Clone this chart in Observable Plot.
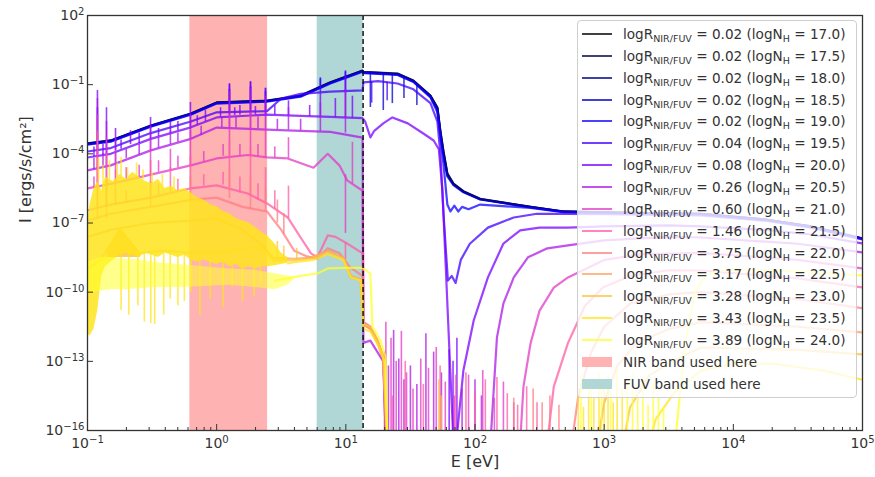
<!DOCTYPE html>
<html><head><meta charset="utf-8">
<script src="https://cdn.jsdelivr.net/npm/d3@7"></script>
<script src="https://cdn.jsdelivr.net/npm/@observablehq/plot@0.6"></script>
<style>
body{margin:0;background:#fff;font-family:"DejaVu Sans",sans-serif;}
#wrap{position:relative;width:875px;height:477px;overflow:hidden;}
#legend{position:absolute;left:577px;top:20px;width:280px;height:378px;box-sizing:border-box;border:1px solid #cfcfcf;border-radius:4px;background:rgba(255,255,255,0.8);font-size:13.6px;color:#333;}
.sw{position:absolute;left:4px;width:30px;}
.tx{position:absolute;left:45px;white-space:nowrap;line-height:16px;}
sub{font-size:0.7em;vertical-align:-0.3em;line-height:0;}
</style></head>
<body><div id="wrap"><div id="chart"></div><div id="legend"></div></div>
<script>
// ---------- labels ----------
const logNH = ["17.0","17.5","18.0","18.5","19.0","19.5","20.0","20.5","21.0","21.5","22.0","22.5","23.0","23.5","24.0"];
const logR  = ["0.02","0.02","0.02","0.02","0.02","0.04","0.08","0.26","0.60","1.46","3.75","3.17","3.28","3.43","3.89"];
const palette = ["#000000","#000044","#000088","#0000cc","#0d00ff","#4200ff","#7800ff","#ad18e7","#e23ac5","#ff5ca3","#ff7e81","#ffa05f","#ffc23d","#ffe41b","#ffff2b"];
const nirBand = [0.62, 2.48];
const fuvBand = [6.0, 13.6];
const lymanEdge = [13.6];
const xTicks = [1e-1,1e0,1e1,1e2,1e3,1e4,1e5];
const yTicks = [1e2,1e-1,1e-4,1e-7,1e-10,1e-13,1e-16];

// ---------- spectra: [log10 E(eV), log10 I] ----------
const spec17_0 = [[-1,-3.55],[-0.82,-3.42],[-0.51,-2.77],[-0.2,-2.25],[0,-1.77],[0.39,-1.69],[0.65,-1.47],[0.88,-0.9],[1.13,-0.39],
 [1.136,-0.45],[1.25,-0.48],[1.4,-0.52],[1.523,-0.82],[1.655,-1.47],[1.709,-1.99],[1.732,-3.0],[1.755,-3.85],[1.786,-4.85],[1.833,-5.29],[1.91,-5.62],[2.04,-5.95],[2.43,-6.3],[2.684,-6.5],[3.0,-6.54],[3.75,-6.6],[4.25,-6.85],[4.6,-7.15],[5,-7.67]];
const spec17_5 = [[-1,-3.56],[-0.82,-3.43],[-0.51,-2.78],[-0.2,-2.26],[0,-1.78],[0.39,-1.7],[0.65,-1.48],[0.88,-0.91],[1.13,-0.4],
 [1.136,-0.46],[1.25,-0.49],[1.4,-0.53],[1.523,-0.83],[1.655,-1.48],[1.709,-2.01],[1.732,-3.05],[1.755,-3.9],[1.786,-4.88],[1.833,-5.3],[1.91,-5.63],[2.04,-5.96],[2.43,-6.3],[2.684,-6.5],[3.0,-6.54],[3.75,-6.6],[4.25,-6.85],[4.6,-7.15],[5,-7.67]];
const spec18_0 = [[-1,-3.57],[-0.82,-3.44],[-0.51,-2.79],[-0.2,-2.27],[0,-1.79],[0.39,-1.71],[0.65,-1.49],[0.88,-0.92],[1.13,-0.41],
 [1.136,-0.47],[1.25,-0.5],[1.4,-0.55],[1.523,-0.85],[1.655,-1.5],[1.709,-2.05],[1.732,-3.1],[1.755,-3.95],[1.786,-4.92],[1.833,-5.32],[1.91,-5.64],[2.04,-5.97],[2.43,-6.31],[2.684,-6.51],[3.0,-6.55],[3.75,-6.61],[4.25,-6.86],[4.6,-7.16],[5,-7.68]];
const spec18_5 = [[-1,-3.58],[-0.82,-3.45],[-0.51,-2.8],[-0.2,-2.28],[0,-1.8],[0.39,-1.72],[0.65,-1.5],[0.88,-0.93],[1.13,-0.42],
 [1.136,-0.48],[1.25,-0.51],[1.4,-0.56],[1.523,-0.86],[1.655,-1.52],[1.709,-2.1],[1.732,-3.2],[1.755,-4.05],[1.786,-4.98],[1.833,-5.36],[1.91,-5.67],[2.04,-5.98],[2.43,-6.32],[2.684,-6.52],[3.0,-6.55],[3.75,-6.61],[4.25,-6.86],[4.6,-7.16],[5,-7.68]];
const spec19_0 = [[-1,-3.6],[-0.82,-3.47],[-0.51,-2.82],[-0.2,-2.3],[0,-1.82],[0.39,-1.74],[0.65,-1.52],[0.88,-0.95],[1.13,-0.44],
 [1.136,-0.5],[1.25,-0.53],[1.4,-0.58],[1.523,-0.88],[1.655,-1.55],[1.709,-2.2],[1.732,-3.3],[1.755,-4.4],[1.786,-6.2],[1.81,-6.5],[1.84,-6.25],[1.87,-6.5],[1.9,-6.3],[1.95,-6.4],[2.04,-6.2],[2.43,-6.35],[2.684,-6.53],[3.0,-6.56],[3.75,-6.62],[4.25,-6.87],[4.6,-7.17],[5,-7.69]];
const spec19_5 = [[-1,-3.9],[-0.82,-3.75],[-0.51,-3.1],[-0.2,-2.6],[0,-2.2],[0.39,-2.15],[0.5,-1.6],[0.65,-1.4],[0.88,-1.3],[1.13,-1.25],
 [1.136,-0.9],[1.25,-0.85],[1.4,-0.95],[1.523,-1.2],[1.655,-1.8],[1.709,-2.6],[1.732,-4.0],[1.755,-6.5],[1.79,-9.5],[1.82,-9.3],[1.85,-9.6],[1.89,-8.6],[1.96,-7.9],[2.1,-7.2],[2.3,-6.76],[2.48,-6.6],[2.72,-6.6],[3.0,-6.62],[3.75,-6.67],[4.25,-6.9],[4.6,-7.2],[5,-7.72]];
const spec20_0 = [[-1,-4.16],[-0.82,-4.0],[-0.51,-3.35],[-0.2,-2.85],[0,-2.42],[0.39,-2.3],[0.65,-2.35],[0.88,-2.4],[1.13,-2.45],
 [1.15,-2.6],[1.19,-3.29],[1.22,-3.0],[1.29,-2.68],[1.36,-2.42],[1.48,-2.68],[1.6,-3.12],[1.68,-3.42],[1.72,-3.8],[1.748,-5.6],[1.79,-11.0],[1.833,-16.5],[1.864,-16.0],[1.91,-13.4],[1.99,-11.23],[2.1,-9.36],[2.22,-7.89],[2.35,-7.32],[2.5,-7.2],[2.72,-7.2],[3.0,-7.15],[3.5,-7.1],[3.75,-7.15],[4.25,-7.3],[4.6,-7.5],[5,-7.89]];
const spec20_5 = [[-1,-4.72],[-0.82,-4.5],[-0.51,-3.85],[-0.2,-3.35],[0,-2.86],[0.39,-2.95],[0.65,-3.0],[0.88,-3.05],[1.13,-3.3],
 [1.136,-12.2],[1.19,-12.1],[1.245,-12.6],[1.29,-13.0],[1.31,-16.5],[2.12,-16.5],[2.17,-11.96],[2.22,-10.49],[2.3,-9.36],[2.41,-8.49],[2.56,-8.1],[2.72,-7.97],[3.0,-7.75],[3.5,-7.6],[3.75,-7.63],[4.5,-7.9],[5,-8.28]];
const spec21_0 = [[-1,-5.5],[-0.82,-5.3],[-0.51,-4.9],[-0.2,-4.5],[0,-4.2],[0.24,-4.05],[0.39,-4.15],[0.55,-4.2],[0.75,-4.6],[0.86,-4.0],[0.95,-4.5],[1.01,-5.15],[1.13,-5.6],
 [1.136,-11.3],[1.19,-11.5],[1.245,-12.1],[1.29,-12.8],[1.31,-16.5],[2.35,-16.5],[2.375,-14.1],[2.43,-12.22],[2.5,-10.8],[2.61,-9.8],[2.72,-9.36],[3.0,-8.6],[3.3,-8.35],[3.75,-8.3],[4.5,-8.6],[5,-8.97]];
const spec21_5 = [[-1,-6.45],[-0.82,-6.2],[-0.51,-5.9],[-0.2,-5.5],[0,-5.37],[0.24,-5.72],[0.39,-6.15],[0.55,-6.76],[0.65,-7.63],[0.73,-8.32],[0.78,-8.49],[0.86,-7.54],[0.92,-7.6],[1.01,-7.89],[1.13,-8.32],
 [1.136,-11.4],[1.19,-11.55],[1.245,-12.15],[1.29,-12.85],[1.315,-16.5],[2.56,-16.5],[2.61,-14.1],[2.72,-12.2],[2.79,-11.35],[2.85,-10.6],[2.99,-9.8],[3.2,-9.3],[3.5,-9.05],[3.75,-9.06],[4.5,-9.4],[5,-9.8]];
const spec22_0 = [[-1,-6.9],[-0.82,-6.6],[-0.51,-6.3],[-0.2,-6.0],[0,-5.9],[0.2,-6.3],[0.39,-6.5],[0.5,-7.3],[0.6,-8.2],[0.7,-8.45],[0.78,-8.55],[0.86,-8.1],[0.95,-8.3],[1.03,-8.9],[1.13,-9.3],
 [1.136,-11.4],[1.19,-11.6],[1.245,-12.2],[1.29,-12.9],[1.315,-16.5],[2.75,-16.5],[2.8,-14.5],[2.9,-12.6],[3.0,-11.5],[3.2,-10.5],[3.5,-10.1],[3.75,-10.0],[4.5,-10.3],[5,-10.7]];
const spec22_5 = [[-1,-7.6],[-0.82,-7.3],[-0.51,-7.0],[-0.2,-6.9],[0,-6.8],[0.2,-7.3],[0.34,-7.9],[0.44,-8.5],[0.6,-8.55],[0.73,-8.5],[0.86,-8.2],[0.98,-8.5],[1.04,-9.3],[1.12,-9.45],
 [1.136,-11.4],[1.19,-11.55],[1.245,-12.15],[1.29,-12.85],[1.32,-16.5],[2.95,-16.5],[3.0,-14.8],[3.1,-13.2],[3.25,-12.2],[3.5,-11.6],[3.75,-11.3],[4.5,-11.5],[5,-11.75]];
const spec23_0 = [[-1,-9.0],[-0.9,-8.6],[-0.75,-7.3],[-0.6,-8.3],[-0.4,-8.2],[-0.2,-8.3],[0,-8.3],[0.2,-8.1],[0.34,-8.06],[0.44,-8.62],[0.594,-8.62],[0.726,-8.54],[0.858,-8.28],[0.981,-8.54],[1.036,-9.36],[1.113,-9.49],
 [1.136,-11.36],[1.19,-11.5],[1.245,-12.1],[1.29,-12.8],[1.322,-16.5],[3.15,-16.5],[3.2,-15.0],[3.35,-13.6],[3.6,-12.8],[3.75,-12.4],[4.5,-12.5],[5,-12.7]];
const spec23_5 = [[0.55,-8.75],[0.6,-8.7],[0.75,-8.6],[0.86,-8.35],[0.98,-8.6],[1.04,-9.35],[1.12,-9.5],
 [1.136,-11.6],[1.19,-11.7],[1.25,-12.3],[1.3,-13.0],[1.32,-16.5],[3.35,-16.5],[3.4,-15.5],[3.55,-14.3],[3.75,-13.4],[4.0,-13.1],[4.3,-13.1],[4.7,-13.4],[5,-13.8]];
const spec24_0 = [[0.45,-9.5],[0.5,-9.45],[0.6,-9.35],[0.7,-9.25],[0.78,-9.19],[0.86,-8.97],[1.0,-8.95],[1.13,-8.95],[1.19,-9.2],[1.206,-11.5],[1.268,-12.1],[1.307,-12.8],[1.322,-16.5],
 [3.55,-16.5],[3.62,-12.5],[3.7,-10.0],[3.8,-9.2],[4.0,-9.0],[4.5,-9.1],[5,-9.27]];

// ---------- dense noisy parts as envelopes: [log E, log low, log high] ----------
const band23_0 = [[-0.845,-8.5,-8.2],[-0.745,-8.5,-7.2],[-0.59,-8.5,-8.3]];
const band23_5 = [[-1.0,-11.8,-7.0],[-0.98,-11.9,-6.2],[-0.95,-11.6,-5.5],[-0.92,-10.8,-5.2],[-0.89,-9.3,-5.6],[-0.86,-8.9,-5.0],[-0.8,-8.6,-5.2],[-0.75,-8.4,-4.9],[-0.7,-8.3,-5.1],[-0.65,-8.4,-4.8],[-0.6,-8.5,-5.0],[-0.55,-8.3,-5.2],[-0.5,-8.4,-5.3],[-0.45,-8.5,-5.1],[-0.4,-8.3,-5.5],[-0.35,-8.4,-5.4],[-0.3,-8.5,-5.6],[-0.25,-8.4,-5.5],[-0.2,-8.6,-5.7],[-0.15,-8.7,-5.9],[-0.1,-8.6,-6.0],[-0.05,-8.7,-6.2],[0.0,-8.8,-6.3],[0.05,-8.7,-6.5],[0.1,-8.9,-6.6],[0.15,-8.8,-6.8],[0.2,-9.0,-6.9],[0.25,-8.9,-7.0],[0.3,-9.0,-7.2],[0.35,-8.9,-7.4],[0.4,-8.9,-7.6],[0.45,-8.85,-7.9],[0.5,-8.8,-8.3],[0.55,-8.75,-8.5]];
const band24_0 = [[-1,-10.0,-8.7],[-0.95,-10.0,-8.6],[-0.9,-9.95,-8.5],[-0.8,-9.9,-8.5],[-0.7,-9.9,-8.6],[-0.6,-9.85,-8.6],[-0.5,-9.8,-8.7],[-0.3,-9.8,-8.8],[-0.1,-9.75,-8.9],[0.1,-9.7,-9.0],[0.3,-9.8,-9.05],[0.45,-9.9,-9.2],[0.55,-9.7,-9.3],[0.6,-9.45,-9.35]];

// ---------- narrow lines / spikes: [log E, log from, log to] ----------
const spk18_5 = [[1.19,-0.5,-1.99],[1.29,-0.55,-2.12],[1.36,-0.6,-1.82],[1.45,-0.7,-1.6],[1.55,-0.95,-1.9]];
const spk19_0 = [[0.099,-1.85,-1.2],[0.262,-1.78,-1.1],[0.378,-1.76,-1.3],[0.803,-1.2,-0.75],[0.997,-0.8,-0.45]];
const spk19_5 = [[-0.923,-3.85,-2.0],[0.099,-2.15,-1.0],[0.262,-2.1,-0.9],[0.378,-2.15,-1.15],[0.803,-1.32,-0.7],[0.997,-1.3,-0.4],[1.2,-0.87,-1.8],[1.32,-0.9,-1.7]];
const spk20_0 = [[-0.923,-4.1,-1.25],[-0.853,-4.0,-2.0],[-0.783,-3.85,-2.9],[-0.667,-3.6,-3.0],[-0.512,-3.35,-2.42],[-0.358,-3.1,-2.6],[-0.203,-2.85,-1.77],[-0.087,-2.6,-2.1],[0.099,-2.35,-0.95],[0.18,-2.33,-1.9],[0.262,-2.32,-0.86],[0.378,-2.3,-1.17],[0.556,-2.35,-1.7],[0.72,-2.38,-1.9],[0.803,-2.4,-1.3],[0.919,-2.42,-1.6],[0.997,-2.45,-0.6],[1.051,-2.45,-1.5],
 [-0.95,-4.15,-3.7],[-0.88,-4.05,-3.6],[-0.74,-3.8,-3.4],[-0.6,-3.55,-3.1],[-0.45,-3.25,-2.9],[-0.3,-3.0,-2.6],[-0.15,-2.75,-2.35],[0.03,-2.4,-2.0],[0.14,-2.34,-2.0],[0.3,-2.31,-1.95],[0.45,-2.32,-1.9],
 [1.8,-16.5,-12.5],[1.83,-16.5,-13.0],[1.86,-16.5,-12.0]];
const spk20_5 = [[-0.923,-4.65,-1.6],[-0.853,-4.55,-2.6],[-0.783,-4.4,-3.3],[-0.512,-3.85,-2.8],[-0.358,-3.6,-3.0],[-0.203,-3.35,-2.3],[0.099,-2.88,-1.3],[0.262,-2.9,-1.2],[0.378,-2.92,-1.5],[0.556,-2.97,-2.0],[0.803,-3.02,-1.8],[0.997,-3.1,-1.2],
 [-0.95,-4.7,-4.2],[-0.88,-4.6,-4.0],[-0.7,-4.2,-3.8],[-0.6,-4.05,-3.6],[-0.45,-3.75,-3.3],[-0.3,-3.5,-3.1],[-0.12,-3.2,-2.8],[0.04,-2.87,-2.4],[0.15,-2.88,-2.4],[0.32,-2.91,-2.4],[0.47,-2.95,-2.5],[0.65,-3.0,-2.5],
 [1.3,-16.5,-12.6],[1.33,-16.5,-13.2],[1.37,-16.5,-11.66],[1.41,-16.5,-12.9],[1.45,-16.5,-13.8],[1.5,-16.5,-13.2],[1.55,-16.5,-14.0],[1.62,-16.5,-11.8],[1.68,-16.5,-12.6],[1.74,-16.5,-13.5],[1.9,-16.5,-14.2],[2.0,-16.5,-13.8],[2.05,-16.5,-14.5]];
const spk21_0 = [[-0.923,-5.45,-2.3],[-0.853,-5.35,-3.3],[-0.783,-5.2,-3.9],[-0.512,-4.9,-3.4],[-0.358,-4.7,-3.8],[-0.203,-4.5,-3.0],[0.099,-4.1,-2.3],[0.262,-4.1,-2.2],[0.378,-4.15,-2.9],[0.556,-4.2,-3.3],[0.997,-4.9,-7.45],[1.051,-5.3,-3.5],
 [-0.95,-5.5,-5.0],[-0.7,-5.1,-4.6],[-0.6,-5.0,-4.5],[-0.45,-4.8,-4.3],[-0.3,-4.6,-4.1],[-0.1,-4.35,-3.9],[0.05,-4.1,-3.6],[0.18,-4.08,-3.6],[0.32,-4.12,-3.6],[0.45,-4.17,-3.7],
 [1.31,-16.5,-11.3],[1.35,-16.5,-12.0],[1.39,-16.5,-13.0],[1.43,-16.5,-11.7],[1.47,-16.5,-13.5],[1.52,-16.5,-14.2],[1.58,-16.5,-12.9],[1.64,-16.5,-13.3],[1.7,-16.5,-12.4],[1.77,-16.5,-13.9],[1.84,-16.5,-14.5],[1.95,-16.5,-13.6],[2.06,-16.5,-13.4],[2.15,-16.5,-14.6],[2.22,-16.5,-13.9],[2.3,-16.5,-14.8]];
const spk21_5 = [[-0.923,-6.4,-3.0],[-0.853,-6.3,-4.0],[-0.783,-6.2,-4.7],[-0.512,-5.9,-4.3],[-0.358,-5.7,-4.6],[-0.203,-5.5,-4.1],[0.099,-5.45,-3.4],[0.262,-5.85,-3.7],[0.378,-6.1,-4.6],[0.556,-6.8,-5.4],[0.997,-7.85,-8.6],
 [-0.7,-6.1,-5.6],[-0.45,-5.8,-5.3],[-0.3,-5.65,-5.1],[-0.1,-5.4,-4.9],[0.05,-5.35,-4.8],[0.18,-5.7,-5.0],[0.32,-6.0,-5.3],[0.45,-6.4,-5.6],
 [1.36,-16.5,-14.5],[1.46,-16.5,-13.0],[1.6,-16.5,-14.0],[1.73,-16.5,-13.2],[1.85,-16.5,-13.6],[1.93,-16.5,-13.5],[2.0,-16.5,-14.3],[2.08,-16.5,-13.8],[2.17,-16.5,-13.7],[2.25,-16.5,-14.4],[2.33,-16.5,-14.9],[2.4,-16.5,-14.1],[2.48,-16.5,-14.8]];
const spk22_0 = [[-0.923,-6.85,-4.2],[-0.853,-6.8,-5.0],[-0.512,-6.3,-5.2],[-0.203,-6.0,-5.0],[0.099,-5.95,-4.6],[0.262,-6.4,-5.0],[0.378,-6.5,-5.5],[0.47,-7.0,-6.0],[0.52,-7.5,-6.6],
 [2.3,-16.5,-14.6],[2.45,-16.5,-14.2],[2.52,-16.5,-14.8],[2.58,-16.5,-14.5],[2.65,-16.5,-14.9]];
const spk23_0 = [[0.47,-8.6,-7.8],[0.52,-8.62,-8.0],[0.62,-8.6,-8.1],[1.72,-16.5,-13.8],[1.74,-16.5,-14.5]];
const spk23_5 = [[-0.915,-5.2,-4.2],[-0.88,-5.5,-4.5],[-0.83,-5.1,-4.3],[-0.77,-5.0,-4.4],[-0.74,-5.0,-4.16],[-0.69,-5.0,-4.6],[-0.62,-5.0,-4.4],[-0.57,-5.1,-4.7],[-0.5,-5.3,-4.8],[-0.42,-5.4,-4.9],[-0.33,-5.5,-5.0],
 [-0.74,-10.8,-8.3],[-0.68,-11.0,-8.2],[-0.61,-10.6,-8.4],[-0.56,-11.3,-8.3],[-0.51,-11.36,-8.3],[-0.48,-11.4,-8.4],[-0.41,-11.0,-8.3],[-0.36,-10.3,-8.3],[-0.3,-10.6,-8.4],[-0.25,-10.4,-8.4],[-0.2,-10.0,-8.5],[-0.13,-11.0,-8.6],[-0.05,-10.3,-8.6],[0.05,-10.66,-8.7],[0.12,-9.8,-8.8],[0.2,-10.4,-8.9],[0.29,-10.2,-8.9],[0.34,-9.6,-8.9],
 [2.8,-16.5,-14.2],[2.84,-16.5,-15.0],[2.88,-16.5,-13.9],[2.92,-16.5,-14.6],[2.96,-16.5,-13.5],[3.0,-16.5,-14.0],[3.03,-16.5,-13.6],[3.07,-16.5,-14.8],[3.1,-16.5,-13.3],[3.14,-16.5,-14.2]];
const spk24_0 = [[3.18,-16.5,-13.8],[3.22,-16.5,-13.5],[3.26,-16.5,-14.4],[3.3,-16.5,-13.7],[3.34,-16.5,-14.9],[3.38,-16.5,-14.0],[3.42,-16.5,-14.6],[3.46,-16.5,-15.0],[2.82,-16.5,-13.6],[2.9,-16.5,-14.1],[2.98,-16.5,-13.9],[3.05,-16.5,-14.3]];

const spectra = [spec17_0,spec17_5,spec18_0,spec18_5,spec19_0,spec19_5,spec20_0,spec20_5,spec21_0,spec21_5,spec22_0,spec22_5,spec23_0,spec23_5,spec24_0];
const bands = {12: band23_0, 13: band23_5, 14: band24_0};
const spikes = {3: spk18_5, 4: spk19_0, 5: spk19_5, 6: spk20_0, 7: spk20_5, 8: spk21_0, 9: spk21_5, 10: spk22_0, 12: spk23_0, 13: spk23_5, 14: spk24_0};

// ---------- marks ----------
const p = v => Math.pow(10, v);
const marks = [
  Plot.rect([nirBand], {x1: d => d[0], x2: d => d[1], fill: "#ffb2b2"}),
  Plot.rect([fuvBand], {x1: d => d[0], x2: d => d[1], fill: "#b0d6d5"})
];
spectra.forEach((s, i) => {
  const c = palette[i];
  if (bands[i]) marks.push(Plot.areaY(bands[i], {x: d => p(d[0]), y1: d => p(d[1]), y2: d => p(d[2]), fill: c, fillOpacity: i === 14 ? 0.55 : 0.85, clip: true}));
  marks.push(Plot.line(s, {x: d => p(d[0]), y: d => p(d[1]), stroke: c, strokeWidth: 2.2, strokeOpacity: 0.75, clip: true}));
  if (spikes[i]) marks.push(Plot.ruleX(spikes[i], {x: d => p(d[0]), y1: d => p(d[1]), y2: d => p(d[2]), stroke: c, strokeWidth: 1.6, strokeOpacity: 0.75, clip: true}));
});
marks.push(Plot.ruleX(lymanEdge, {stroke: "#111", strokeWidth: 1.5, strokeDasharray: "5,3"}));
const minorX = [];
for (let d = -1; d < 5; d++) for (let k = 2; k <= 9; k++) minorX.push(k * Math.pow(10, d));
marks.push(
  Plot.tickX(minorX, {x: d => d, insetTop: 412, stroke: "#333"}),
  Plot.tickX(xTicks, {x: d => d, insetTop: 409, stroke: "#333"}),
  Plot.tickY(yTicks, {y: d => d, insetRight: 769, stroke: "#333"}),
  Plot.axisX({ticks: xTicks, tickSize: 0, tickPadding: 8, tickFormat: d => "10^" + Math.round(Math.log10(d)), label: null, fontSize: 14}),
  Plot.axisY({ticks: yTicks, tickSize: 0, tickPadding: 3, tickFormat: d => "10^" + Math.round(Math.log10(d)), label: null, fontSize: 14}),
  Plot.frame({stroke: "#333", strokeWidth: 1.3}),
  Plot.text(["E [eV]"], {frameAnchor: "bottom", dy: 36, text: d => d, fontSize: 16, fill: "#333"}),
  Plot.text(["I [ergs/s/cm²]"], {frameAnchor: "left", dx: -62, rotate: -90, text: d => d, fontSize: 16, fill: "#333"})
);

const svg = Plot.plot({
  width: 875, height: 477,
  marginLeft: 87, marginRight: 13, marginTop: 15, marginBottom: 47,
  x: {type: "log", domain: [1e-1, 1e5]},
  y: {type: "log", domain: [1e-16, 1e2]},
  style: {fontFamily: "DejaVu Sans", color: "#333", background: "white"},
  marks
});
// superscript exponents in tick labels
svg.querySelectorAll('g[aria-label="x-axis tick label"] text, g[aria-label="y-axis tick label"] text').forEach(t => {
  const m = t.textContent.match(/^10\^(-?\d+)$/);
  if (!m) return;
  t.textContent = "10";
  const ts = document.createElementNS("http://www.w3.org/2000/svg", "tspan");
  ts.setAttribute("dy", "-0.5em");
  ts.setAttribute("font-size", "0.72em");
  ts.textContent = m[1].replace("-", "\u2212");
  t.appendChild(ts);
});
document.getElementById("chart").appendChild(svg);

// ---------- legend ----------
const leg = document.getElementById("legend");
const rowH = 21.85, row0 = 13;
logNH.forEach((nh, i) => {
  const cy = Math.round(row0 + i * rowH);
  const sw = document.createElement("div");
  sw.className = "sw";
  sw.style.top = (cy - 1) + "px"; sw.style.height = "2px";
  sw.style.background = palette[i]; sw.style.opacity = 0.75;
  leg.appendChild(sw);
  const tx = document.createElement("div");
  tx.className = "tx"; tx.style.top = (cy - 8) + "px";
  tx.innerHTML = `logR<sub>NIR/FUV</sub> = ${logR[i]} (logN<sub>H</sub> = ${nh})`;
  leg.appendChild(tx);
});
[["NIR band used here", "#ffb2b2"], ["FUV band used here", "#b0d6d5"]].forEach(([lab, col], j) => {
  const cy = Math.round(row0 + (15 + j) * rowH);
  const sw = document.createElement("div");
  sw.className = "sw"; sw.style.top = (cy - 5) + "px"; sw.style.height = "10px"; sw.style.background = col;
  leg.appendChild(sw);
  const tx = document.createElement("div");
  tx.className = "tx"; tx.style.top = (cy - 8) + "px"; tx.textContent = lab;
  leg.appendChild(tx);
});
</script></body></html>
